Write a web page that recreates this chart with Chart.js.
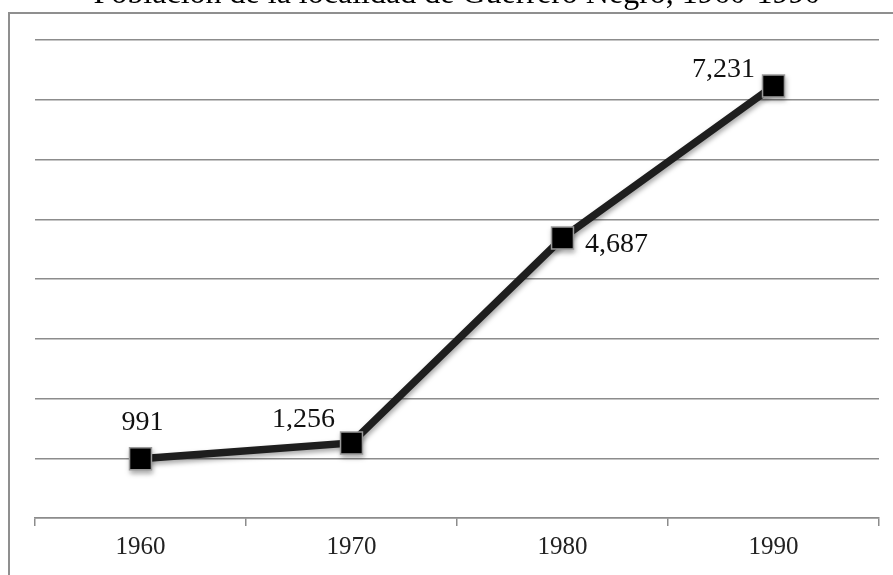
<!DOCTYPE html>
<html>
<head>
<meta charset="utf-8">
<script src="https://cdn.jsdelivr.net/npm/chart.js@4/dist/chart.umd.min.js"></script>
<style>
  html, body { margin: 0; padding: 0; background: #fff; }
  #wrap { position: relative; width: 893px; height: 575px; overflow: hidden; background: #fff; }
  #c { position: absolute; left: 0; top: -35px; }
</style>
</head>
<body>
<div id="wrap"><canvas id="c" width="916" height="620"></canvas></div>
<script>
// Población de Guerrero Negro por censo
const years = ['1960', '1970', '1980', '1990'];
const population = [991, 1256, 4687, 7231];
const yTicks = { min: 0, max: 8000, step: 1000 };
const chartTitle = 'Población de la localidad de Guerrero Negro, 1960-1990';

// where each value label sits relative to its marker (text centre)
const labelPlacement = [
  { dx: 2, dy: -36 },
  { dx: -48, dy: -23 },
  { dx: 54, dy: 7 },
  { dx: -50, dy: -16 }
];

const SERIF = '"Liberation Serif", "Times New Roman", serif';

// outer gray frame around the plot
const framePlugin = {
  id: 'frame',
  beforeDraw(chart) {
    const ctx = chart.ctx;
    ctx.save();
    ctx.strokeStyle = '#8f8f8f';
    ctx.lineWidth = 2;
    ctx.strokeRect(9, 48, 1200, 1200);
    ctx.restore();
  }
};

// soft drop shadow under the line and markers
const shadowPlugin = {
  id: 'shadow',
  beforeDatasetsDraw(chart) {
    const ctx = chart.ctx;
    ctx.save();
    ctx.shadowColor = 'rgba(0,0,0,0.35)';
    ctx.shadowBlur = 5;
    ctx.shadowOffsetX = 1;
    ctx.shadowOffsetY = 3;
  },
  afterDatasetsDraw(chart) {
    chart.ctx.restore();
  }
};

// value labels next to each marker
const valueLabels = {
  id: 'valueLabels',
  afterDatasetsDraw(chart) {
    const ctx = chart.ctx;
    const meta = chart.getDatasetMeta(0);
    ctx.save();
    ctx.font = '28px ' + SERIF;
    ctx.fillStyle = '#111';
    ctx.textAlign = 'center';
    ctx.textBaseline = 'middle';
    meta.data.forEach((pt, i) => {
      const p = labelPlacement[i];
      const txt = population[i].toLocaleString('en-US');
      ctx.fillText(txt, pt.x + p.dx, pt.y + p.dy);
    });
    ctx.restore();
  }
};

new Chart(document.getElementById('c'), {
  type: 'line',
  data: {
    labels: years,
    datasets: [{
      data: population,
      borderColor: '#1e1e1e',
      borderWidth: 7.5,
      tension: 0,
      pointStyle: 'rect',
      pointRadius: 15.5,
      pointHoverRadius: 15.5,
      pointBackgroundColor: '#000',
      pointBorderColor: '#9a9a9a',
      pointBorderWidth: 1.5
    }]
  },
  options: {
    responsive: false,
    animation: false,
    devicePixelRatio: 1,
    layout: { padding: { left: 35, right: 37, top: 0, bottom: 17 } },
    plugins: {
      legend: { display: false },
      tooltip: { enabled: false },
      title: {
        display: true,
        text: chartTitle,
        color: '#000',
        font: { family: SERIF, size: 32, weight: 'normal' },
        padding: { top: 10, bottom: 26.6 }
      }
    },
    scales: {
      x: {
        type: 'category',
        offset: true,
        grid: {
          offset: true,
          drawOnChartArea: false,
          drawTicks: true,
          tickLength: 8,
          color: '#8c8c8c',
          lineWidth: 1.5
        },
        border: { display: true, color: '#8c8c8c', width: 1.5 },
        ticks: {
          color: '#222',
          padding: 6,
          font: { family: SERIF, size: 25 }
        }
      },
      y: {
        min: yTicks.min,
        max: yTicks.max,
        ticks: { display: false, stepSize: yTicks.step },
        grid: { color: '#8c8c8c', lineWidth: 1.5, drawTicks: false },
        border: { display: false }
      }
    }
  },
  plugins: [framePlugin, shadowPlugin, valueLabels]
});
</script>
</body>
</html>
